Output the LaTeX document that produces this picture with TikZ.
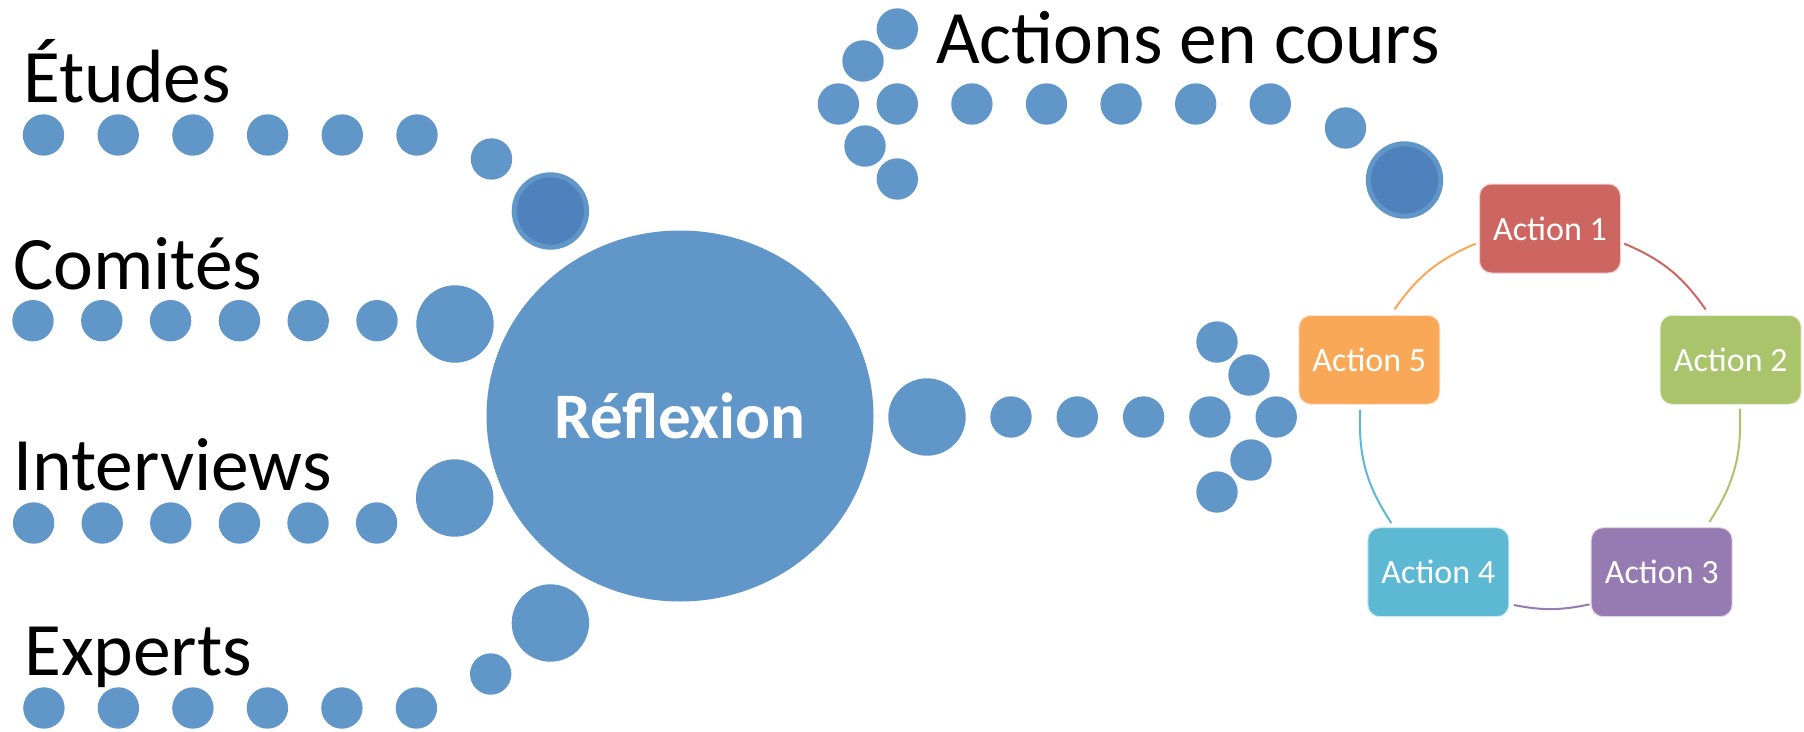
\documentclass[tikz,border=0pt]{standalone}
\usepackage{fontspec}
\setmainfont{Carlito}
\usepackage{tikz}
\usetikzlibrary{shapes.geometric, positioning, calc}
\definecolor{DotBlue}{HTML}{6196C9}
\definecolor{DeepBlue}{HTML}{4F81BD}
\definecolor{ActRed}{HTML}{CD6660}
\definecolor{ActGreen}{HTML}{A9C46B}
\definecolor{ActPurple}{HTML}{957BB1}
\definecolor{ActCyan}{HTML}{5DB9D3}
\definecolor{ActOrange}{HTML}{F9A857}
\tikzset{
  dotnode/.style={circle, fill=DotBlue, inner sep=0pt, outer sep=0pt, minimum size=41.4pt},
  bigdot/.style={dotnode, minimum size=77.4pt},
  ringdot/.style={dotnode, fill=DeepBlue, draw=DotBlue, line width=5pt, minimum size=72.4pt},
  sourcetext/.style={anchor=base west, inner sep=0pt, font=\fontsize{75.5}{82}\selectfont},
  hubnode/.style={ellipse, fill=DotBlue, inner sep=0pt, minimum width=387pt, minimum height=371pt, text=white, font=\fontsize{65}{72}\selectfont\bfseries},
  actionbox/.style={rectangle, rounded corners=12pt, minimum width=141pt, minimum height=89pt, text=white, font=\fontsize{34}{40}\selectfont, draw=white!70!#1, fill=#1, line width=1pt},
  cyclearc/.style={line width=2pt}
}

\begin{document}
\begin{tikzpicture}[x=1pt, y=-1pt]
  \useasboundingbox (0,0) rectangle (1804,731);

  % Etudes
  \node[sourcetext] (etudes) at (23,102) {Études};
  \node[dotnode] (e1) at (43.5,135) {};
  \node[dotnode, right=33.3pt of e1] (e2) {};
  \node[dotnode, right=33.3pt of e2] (e3) {};
  \node[dotnode, right=33.3pt of e3] (e4) {};
  \node[dotnode, right=33.3pt of e4] (e5) {};
  \node[dotnode, right=33.3pt of e5] (e6) {};
  \node[dotnode] (e7) at (491.5,159) {};
  \node[ringdot] (e0) at (550.4,211) {};

  % Comites
  \node[sourcetext] (comites) at (13,289) {Comités};
  \node[dotnode] (c1) at (33,320.7) {};
  \node[dotnode, right=27.4pt of c1] (c2) {};
  \node[dotnode, right=27.4pt of c2] (c3) {};
  \node[dotnode, right=27.4pt of c3] (c4) {};
  \node[dotnode, right=27.4pt of c4] (c5) {};
  \node[dotnode, right=27.4pt of c5] (c6) {};
  \node[bigdot] (c0) at (455,324) {};

  % Interviews
  \node[sourcetext] (interviews) at (13,490) {Interviews};
  \node[dotnode] (i1) at (33.6,523) {};
  \node[dotnode, right=27.2pt of i1] (i2) {};
  \node[dotnode, right=27.2pt of i2] (i3) {};
  \node[dotnode, right=27.2pt of i3] (i4) {};
  \node[dotnode, right=27.2pt of i4] (i5) {};
  \node[dotnode, right=27.2pt of i5] (i6) {};
  \node[bigdot] (i0) at (454.7,498) {};

  % Experts
  \node[sourcetext] (experts) at (24,675) {Experts};
  \node[dotnode] (x1) at (43.9,708) {};
  \node[dotnode, right=33.1pt of x1] (x2) {};
  \node[dotnode, right=33.1pt of x2] (x3) {};
  \node[dotnode, right=33.1pt of x3] (x4) {};
  \node[dotnode, right=33.1pt of x4] (x5) {};
  \node[dotnode, right=33.1pt of x5] (x6) {};
  \node[dotnode] (x7) at (490.7,674) {};
  \node[bigdot] (x0) at (550.4,623) {};

  \node[hubnode] (hub) at (680,416) {Réflexion};

  % vers les actions
  \node[bigdot] (r0) at (927,417) {};
  \node[dotnode, right=24.6pt of r0] (r1) {};
  \node[dotnode, right=24.9pt of r1] (r2) {};
  \node[dotnode, right=24.9pt of r2] (r3) {};
  \node[dotnode, right=24.9pt of r3] (r4) {};
  \node[dotnode, right=24.9pt of r4] (r5) {};
  \node[dotnode] (r6) at (1249,375) {};
  \node[dotnode] (r7) at (1217,342) {};
  \node[dotnode] (r8) at (1251,460) {};
  \node[dotnode] (r9) at (1217,492) {};

  % Actions en cours
  \node[sourcetext] (encours) at (936,63) {Actions en cours};
  \node[dotnode] (a7) at (897.3,29) {};
  \node[dotnode] (a8) at (863,61) {};
  \node[dotnode] (a9) at (838.4,104) {};
  \node[dotnode] (a1) at (897.3,104) {};
  \node[dotnode] (a10) at (865,146) {};
  \node[dotnode] (a11) at (897.3,179) {};
  \node[dotnode, right=33.2pt of a1] (a2) {};
  \node[dotnode, right=33.2pt of a2] (a3) {};
  \node[dotnode, right=33.2pt of a3] (a4) {};
  \node[dotnode, right=33.2pt of a4] (a5) {};
  \node[dotnode, right=33.2pt of a5] (a6) {};
  \node[dotnode] (a12) at (1345.5,128) {};
  \node[ringdot] (a0) at (1404.5,180) {};

  % cycle
  \coordinate (cyc) at (1550,418.5);
  \node[actionbox=ActRed] (act1) at ($(cyc)+(-90:190)$) {Action 1};
  \node[actionbox=ActGreen] (act2) at ($(cyc)+(-18:190)$) {Action 2};
  \node[actionbox=ActPurple] (act3) at ($(cyc)+(54:190)$) {Action 3};
  \node[actionbox=ActCyan] (act4) at ($(cyc)+(126:190)$) {Action 4};
  \node[actionbox=ActOrange] (act5) at ($(cyc)+(198:190)$) {Action 5};

  \draw[cyclearc, ActRed] ($(cyc)!1!-23:(act1)$) to[bend left=16] ($(cyc)!1!17:(act2)$);
  \draw[cyclearc, ActGreen] ($(cyc)!1!-15:(act2)$) to[bend left=18] ($(cyc)!1!21:(act3)$);
  \draw[cyclearc, ActPurple] ($(cyc)!1!-24:(act3)$) to[bend left=11.5] ($(cyc)!1!25:(act4)$);
  \draw[cyclearc, ActCyan] ($(cyc)!1!-20.6:(act4)$) to[bend left=18] ($(cyc)!1!15.4:(act5)$);
  \draw[cyclearc, ActOrange] ($(cyc)!1!-17:(act5)$) to[bend left=16] ($(cyc)!1!23:(act1)$);
\end{tikzpicture}
\end{document}
